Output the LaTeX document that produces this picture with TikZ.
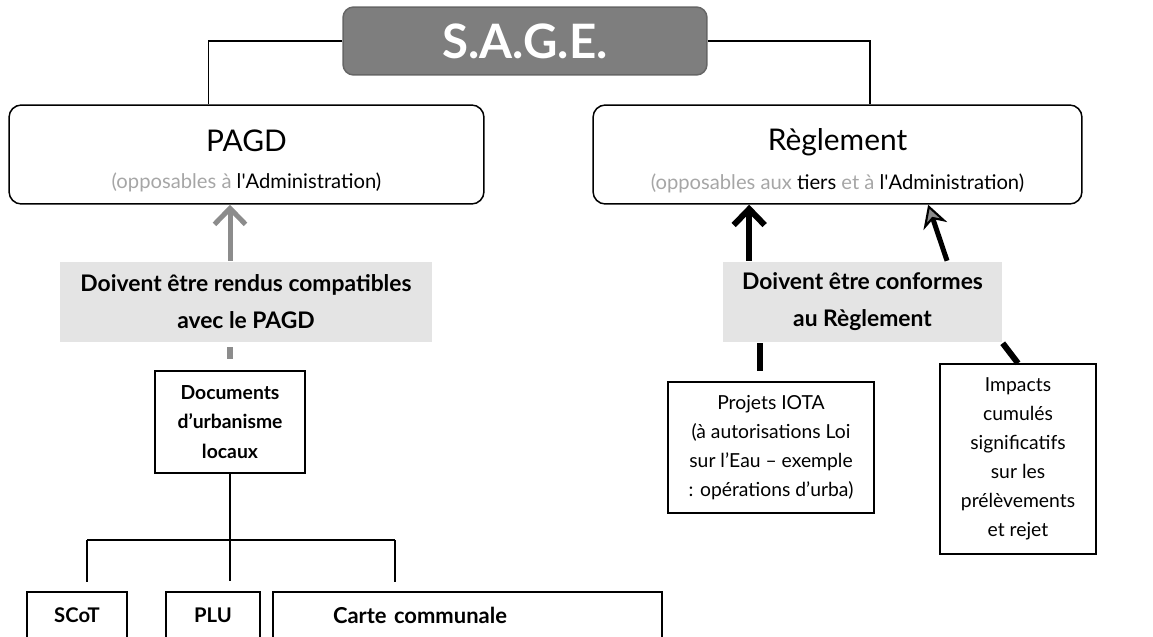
\documentclass[tikz,border=0pt]{standalone}
\usepackage{fontspec}
\setmainfont{Lato}
\usetikzlibrary{arrows.meta}
\usetikzlibrary{positioning}

\definecolor{sagegray}{HTML}{7E7E7E}
\definecolor{labelgray}{HTML}{E4E4E4}
\definecolor{softgray}{HTML}{A6A6A6}
\definecolor{arrowgray}{HTML}{8C8C8C}

\begin{document}
\begin{tikzpicture}[x=0.02cm, y=-0.02cm, line width=0.85pt,
                    >={Straight Barb[length=0.32cm, width=0.62cm]},
                    sage/.style = {rectangle, rounded corners=6pt, draw=black!60, fill=sagegray,
                                   text=white, font=\bfseries\fontsize{27}{30}\selectfont,
                                   minimum width=7.28cm, minimum height=1.36cm},
                    mainbox/.style = {rectangle, rounded corners=7pt, draw, align=center,
                                      minimum width=9.5cm, minimum height=1.98cm},
                    labelbox/.style = {rectangle, fill=labelgray, align=center,
                                       font=\bfseries\fontsize{13}{21}\selectfont,
                                       minimum height=1.62cm},
                    docbox/.style = {rectangle, draw, align=center,
                                     font=\bfseries\fontsize{11}{17}\selectfont},
                    leafbox/.style = {rectangle, draw, minimum height=0.92cm,
                                      font=\bfseries\fontsize{11.5}{14}\selectfont},
                    textbox/.style = {rectangle, draw, align=center,
                                      font=\fontsize{11}{16.5}\selectfont},
                    grayarrow/.style = {->, draw=arrowgray, line width=0.1cm},
                    blackarrow/.style = {->, line width=0.12cm},
                    stub/.style = {line width=0.12cm}]
  \useasboundingbox (0,0) rectangle (1153,636);

  % top of the tree
  \node [sage] (sage) at (525,41) {S.A.G.E.};
  \node [mainbox] (pagd) at (246.5,154.5)
    {{\fontsize{17}{20}\selectfont\rule{0pt}{20pt}PAGD}\\[9pt]
     {\fontsize{11.5}{13}\selectfont\textcolor{softgray}{(opposables à} l\textquotesingle Administration)}};
  \node [mainbox, minimum width=9.78cm] (regl) at (837.5,154.5)
    {{\fontsize{17}{20}\selectfont\rule{0pt}{20pt}Règlement}\\[9pt]
     {\fontsize{11.5}{13}\selectfont\textcolor{softgray}{(opposables aux} tiers \textcolor{softgray}{et à} l\textquotesingle Administration)}};

  \draw (sage.west) -| (pagd.127);
  \draw (sage.east) -| (regl.57);

  % left branch
  \node [labelbox, minimum width=7.44cm] (compat) at (246,302)
    {Doivent être rendus compatibles\\avec le PAGD};
  \node [docbox, minimum width=3cm, minimum height=2.04cm] (docs) at (230,422)
    {Documents\\d’urbanisme\\locaux};
  \node [leafbox, minimum width=2cm] (scot) at (77,615) {SCoT};
  \node [leafbox, minimum width=1.88cm] (plu) at (213,615) {PLU};
  \node [leafbox, minimum width=7.78cm, text width=7.78cm, inner xsep=0pt, align=left,
         font=\bfseries\fontsize{12.5}{15}\selectfont] (carte) at (467.5,615)
    {\hspace*{1.2cm}Carte communale};

  \draw [grayarrow] (compat.north -| docs.north) -- (pagd.south -| docs.north);
  \draw [stub, draw=arrowgray, shorten <=0.08cm, shorten >=0.22cm] (compat.south -| docs.north) -- (docs.north);

  \coordinate (fork) at (230,540);
  \coordinate (barL) at (87,540);
  \coordinate (barR) at (395,540);
  \draw (docs.south) -- (fork);
  \draw (barL) -- (barR);
  \draw [shorten >=0.18cm] (barL) -- (barL |- scot.north);
  \draw [shorten >=0.2cm] (fork) -- (fork |- plu.north);
  \draw [shorten >=0.18cm] (barR) -- (barR |- carte.north);

  % right branch
  \node [labelbox, minimum width=5.58cm] (conf) at (862.5,302)
    {Doivent être conformes\\au Règlement};
  \node [textbox, minimum width=4.12cm, minimum height=2.62cm] (iota) at (771,447.5)
    {Projets IOTA\\(à autorisations Loi\\sur l’Eau – exemple\\: opérations d’urba)};
  \node [textbox, minimum width=3.12cm, minimum height=3.8cm] (impacts) at (1018,459)
    {Impacts\\cumulés\\significatifs\\sur les\\prélèvements\\et rejet};

  \draw [blackarrow] (conf.160) -- (conf.160 |- regl.south);
  \draw [line width=0.1cm, -{Stealth[length=0.45cm, width=0.5cm, fill=arrowgray, line width=1.2pt]}]
    (conf.26) -- (regl.-29);
  \draw [stub, shorten >=0.2cm] (conf.202) -- (conf.202 |- iota.north);
  \draw [stub] (conf.south east) -- (impacts.north);
\end{tikzpicture}
\end{document}
